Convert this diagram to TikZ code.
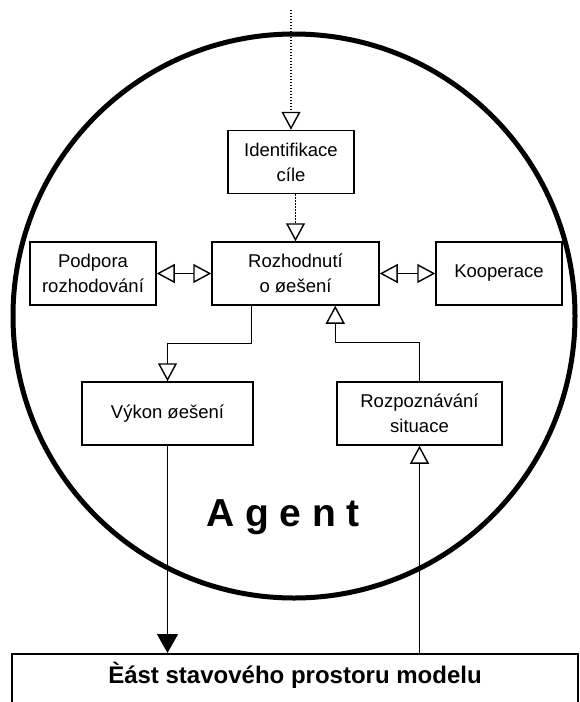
\documentclass[tikz,border=0pt]{standalone}
\usepackage{fontspec}
\setmainfont{Liberation Sans}
\usetikzlibrary{arrows.meta}
\usetikzlibrary{calc}

\begin{document}
\begin{tikzpicture}[x=1pt,y=-1pt,line width=1.3pt,
sysbox/.style={draw,rectangle,line width=1.5pt,minimum width=126pt,minimum height=63pt,align=center,font=\fontsize{18.5}{25}\selectfont},
partbox/.style={draw,rectangle,line width=1.5pt,minimum width=566pt,inner ysep=3pt,text height=27pt,text depth=25pt,font=\fontsize{24}{28}\selectfont\bfseries},
opentip/.style={-{Triangle[open,width=19pt,length=18pt,line width=1.4pt]}},
bothtip/.style={{Triangle[open,width=19pt,length=18pt,line width=1.4pt]}-{Triangle[open,width=19pt,length=18pt,line width=1.4pt]}},
filltip/.style={-{Triangle[width=21pt,length=19pt]}},
dots/.style={dash pattern=on 1.3pt off 1.7pt}]

\useasboundingbox (0,0) rectangle (579,702);

% agent boundary
\draw[line width=5pt] (294,316) ellipse [x radius=281, y radius=282];

\draw (291,162) node[sysbox] (ident) {Identifikace\\cíle};
\draw (295.5,273.5) node[sysbox,minimum width=167pt] (rozh) {Rozhodnutí\\o øešení};
\draw (93,273.5) node[sysbox] (podpora) {Podpora\\rozhodování};
\draw (499,273.5) node[sysbox] (koop) {Kooperace};
\draw (167.5,413.5) node[sysbox,minimum width=171pt] (vykon) {Výkon øešení};
\draw (419.5,413.5) node[sysbox,minimum width=165pt] (rozp) {Rozpoznávání\\situace};
\draw (283,526) node[anchor=base,font=\fontsize{39}{40}\selectfont\bfseries] (agent) {A g e n t};
\draw (295,653) node[partbox,anchor=north] (part) {Èást stavového prostoru modelu};
\coordinate (top) at (291,10);

\draw[dots,opentip] (top) -- (ident.north);
\draw[dots,opentip] (ident.south -| rozh.north) -- (rozh.north);
\draw[bothtip] (podpora.east) -- (rozh.west);
\draw[bothtip] (rozh.east) -- (koop.west);
\draw[opentip] ($(rozh.south west)+(40,0)$) -- ++(0,38) -| (vykon.north);
\draw[opentip] (rozp.north) -- ++(0,-39) -| ($(rozh.south west)+(124,0)$);
\draw[filltip] (vykon.south) -- (vykon.south |- part.north);
\draw[opentip] (rozp.south |- part.north) -- (rozp.south);
\end{tikzpicture}
\end{document}
